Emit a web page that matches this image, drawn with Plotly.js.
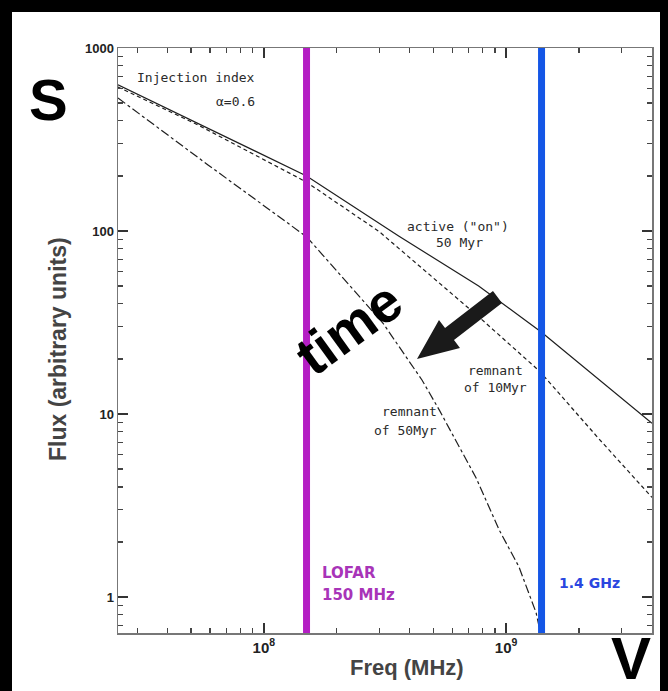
<!DOCTYPE html>
<html><head><meta charset="utf-8">
<script src="https://cdn.plot.ly/plotly-3.0.1.min.js"></script>
<style>
html,body{margin:0;padding:0;background:#000;}
#wrap{position:relative;width:668px;height:691px;background:#000;overflow:hidden;}
#plot{position:absolute;left:12px;top:12px;width:648px;height:679px;}
</style></head>
<body><div id="wrap"><div id="plot"></div></div>
<script>
// ---- data ----
const activeFreq = [2.5e7, 5.4e7, 1.5e8, 3.6e8, 7.7e8, 1.4e9, 2.4e9, 4.0e9];
const activeFlux = [630, 385, 200, 94, 50, 28, 15.5, 8.9];
const rem10Freq = [2.5e7, 5.4e7, 1.5e8, 3.0e8, 7.7e8, 1.37e9, 2.42e9, 4.0e9];
const rem10Flux = [612, 377, 185, 99, 34, 17.2, 7.3, 3.5];
const rem50Freq = [2.5e7, 5.9e7, 1.5e8, 3.1e8, 4.5e8, 5.3e8, 7.5e8, 9.4e8, 1.13e9, 1.33e9, 1.44e9];
const rem50Flux = [533, 229, 93, 31.4, 15.3, 10.5, 4.5, 2.3, 1.46, 0.82, 0.5];
const markerFreq = [1.5e8, 1.4e9];
const markerNames = ['LOFAR 150 MHz', '1.4 GHz'];
const xTickVals = [1e8, 1e9];
const xTickText = ['10<sup>8</sup>', '10<sup>9</sup>'];
const yTickVals = [1, 10, 100, 1000];
const yTickText = ['1', '10', '100', '1000'];

// minor tick positions (2..9 x 10^k)
function minorVals(k0, k1) {
  const v = [];
  for (let k = k0; k <= k1; k++) for (let d = 2; d <= 9; d++) v.push(d * Math.pow(10, k));
  return v;
}

// ---- page geometry (plot area in page pixels) ----
const OX = 12, OY = 12, W = 648, H = 679;
const PL = 118, PR = 652, PT = 48, PB = 633;
const px = x => (x - PL) / (PR - PL);
const py = y => (PB - y) / (PB - PT);

const lineCol = '#1e1e1e';
const traces = [
  {x: [], y: [], xaxis: 'x2', yaxis: 'y2', mode: 'lines', hoverinfo: 'skip'},
  {x: activeFreq, y: activeFlux, mode: 'lines', line: {color: lineCol, width: 1.2}, name: 'active'},
  {x: rem10Freq, y: rem10Flux, mode: 'lines', line: {color: lineCol, width: 1.2, dash: '4px,3px'}, name: 'remnant 10Myr'},
  {x: rem50Freq, y: rem50Flux, mode: 'lines', line: {color: lineCol, width: 1.2, dash: 'dashdot'}, name: 'remnant 50Myr'},
  {x: [markerFreq[0], markerFreq[0]], y: [0.1, 1e4], mode: 'lines', line: {color: '#b41ec4', width: 7}, name: markerNames[0]},
  {x: [markerFreq[1], markerFreq[1]], y: [0.1, 1e4], mode: 'lines', line: {color: '#1456e6', width: 7}, name: markerNames[1]}
];

const smallFont = {family: 'DejaVu Sans Mono', size: 13, color: '#2a2a2a'};
function ann(text, x, y, opts) {
  return Object.assign({text: text, x: px(x), y: py(y), xref: 'paper', yref: 'paper',
    showarrow: false, xanchor: 'center', yanchor: 'middle', font: smallFont}, opts || {});
}
const titleFont = {family: 'Liberation Sans', size: 22, color: '#444', weight: 'bold'};
const annotations = [
  ann('Injection index', 257, 77, {xanchor: 'right'}),
  ann('α=0.6', 257, 101, {xanchor: 'right'}),
  ann('active ("on")', 458, 226),
  ann('50 Myr', 459, 242),
  ann('remnant', 495, 370),
  ann('of 10Myr', 495, 388),
  ann('remnant', 409, 411),
  ann('of 50Myr', 405, 430),
  ann('<b>LOFAR</b>', 320, 573, {xanchor: 'left', font: {family: 'DejaVu Sans', size: 15, color: '#a834b8'}}),
  ann('<b>150 MHz</b>', 320, 595, {xanchor: 'left', font: {family: 'DejaVu Sans', size: 15, color: '#a834b8'}}),
  ann('<b>1.4 GHz</b>', 557, 583, {xanchor: 'left', font: {family: 'DejaVu Sans', size: 14, color: '#2a46e0'}}),
  ann('<b>time</b>', 348, 328, {textangle: -36, font: {family: 'Liberation Sans', size: 56, color: '#000'}}),
  ann('<b>S</b>', 48, 99, {font: {family: 'Liberation Sans', size: 58, color: '#000'}}),
  ann('<b>V</b>', 631, 658, {font: {family: 'Liberation Sans', size: 60, color: '#000'}}),
  ann('Freq (MHz)', 407, 667, {font: titleFont}),
  ann('Flux (arbitrary units)', 58, 349, {textangle: -90, font: Object.assign({}, titleFont, {size: 23})})
];

// arrow polygon (page pixels)
const arrowPts = [[502, 303], [454, 340], [460, 348], [417, 359], [439, 320], [445, 328], [493, 291]];
const arrowPath = arrowPts.map((p, i) => (i ? 'L' : 'M') + px(p[0]).toFixed(4) + ',' + py(p[1]).toFixed(4)).join(' ') + ' Z';

const xRange = [Math.log10(2.5e7), Math.log10(4.0e9)];
const yRange = [Math.log10(0.636), 3];

const axisCommon = {
  type: 'log', showgrid: false, zeroline: false,
  showline: true, linecolor: '#777', linewidth: 1.5, mirror: 'ticks',
  ticks: 'inside', ticklen: 10, tickwidth: 1.5, tickcolor: '#333'
};
const minorAxis = {
  type: 'log', showgrid: false, zeroline: false, showline: false, mirror: 'ticks',
  ticks: 'inside', ticklen: 5, tickwidth: 1.3, tickcolor: '#444', showticklabels: false,
  tickmode: 'array'
};

const layout = {
  width: W, height: H,
  margin: {l: PL - OX, r: W - (PR - OX), t: PT - OY, b: H - (PB - OY)},
  paper_bgcolor: '#fff', plot_bgcolor: '#fff',
  showlegend: false,
  xaxis: Object.assign({}, axisCommon, {
    range: xRange, tickmode: 'array', tickvals: xTickVals, ticktext: xTickText,
    tickfont: {family: 'Liberation Sans', size: 15, color: '#222', weight: 'bold'}
  }),
  yaxis: Object.assign({}, axisCommon, {
    range: yRange, tickmode: 'array', tickvals: yTickVals, ticktext: yTickText,
    tickfont: {family: 'Liberation Sans', size: 13, color: '#222', weight: 'bold'}
  }),
  xaxis2: Object.assign({}, minorAxis, {overlaying: 'x', anchor: 'y', side: 'bottom', range: xRange, tickvals: minorVals(7, 9)}),
  yaxis2: Object.assign({}, minorAxis, {overlaying: 'y', anchor: 'x', side: 'left', range: yRange, tickvals: minorVals(-1, 2)}),
  annotations: annotations,
  shapes: [{type: 'path', xref: 'paper', yref: 'paper', path: arrowPath, fillcolor: '#1a1a1a', line: {width: 0}}]
};

Plotly.newPlot('plot', traces, layout, {displayModeBar: false, staticPlot: true});
</script>
</body></html>
